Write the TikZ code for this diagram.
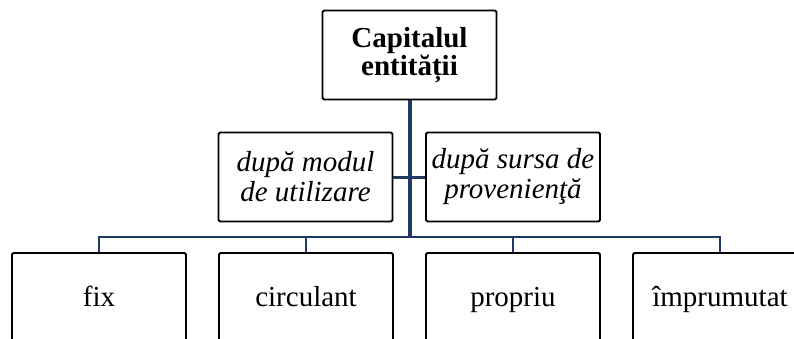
\documentclass[tikz,border=0pt]{standalone}
\usepackage{fontspec}
\setmainfont{Liberation Serif}
\usetikzlibrary{positioning}
\definecolor{linkblue}{RGB}{31,56,100}
\begin{document}
\begin{tikzpicture}
  [
    x=1pt, y=-1pt,
    box/.style={draw, rectangle, rounded corners=1.5pt, line width=1.8pt, minimum width=174pt, minimum height=89pt, inner sep=2pt, align=center, font=\fontsize{29}{29}\selectfont},
    leaf/.style={box, minimum height=90pt, text height=20pt, text depth=4pt},
    link/.style={draw=linkblue, line width=2.2pt},
    trunk/.style={draw=linkblue, line width=4pt},
  ]
  \useasboundingbox (0,0) rectangle (794,338);
  \node (cap) [box, font=\fontsize{29}{28}\selectfont] at (409.5,55) {\textbf{Capitalul}\\\textbf{entității}};

  \node (mod) [box, font=\fontsize{29}{30}\selectfont\itshape] at (305.5,177) {după modul\\de utilizare};
  \node (sursa) [box, font=\fontsize{29}{30}\selectfont\itshape] at (513,177) {după sursa de\\provenienţă};

  \node (fix) [leaf] at (99,298) {fix};
  \node (circ) [leaf] at (306,298) {circulant};
  \node (prop) [leaf] at (513,298) {propriu};
  \node (impr) [leaf] at (720,298) {împrumutat};

  \coordinate (bar) at (409,237);

  \draw [link] (fix.north) -- (fix.north |- bar) -- (impr.north |- bar) -- (impr.north);
  \draw [link] (circ.north) -- (circ.north |- bar);
  \draw [link] (prop.north) -- (prop.north |- bar);
  \draw [link, line width=3pt] (mod.east) -- (sursa.west);
  \draw [trunk] (cap.south) -- ([yshift=-1pt]cap.south |- bar);
\end{tikzpicture}
\end{document}
